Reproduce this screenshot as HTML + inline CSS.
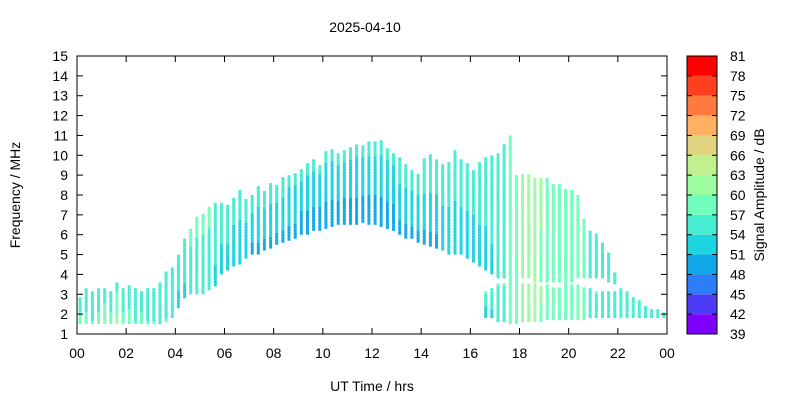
<!DOCTYPE html>
<html><head><meta charset="utf-8"><style>
body{margin:0;background:#fff;font-family:"Liberation Sans",Arial,sans-serif}
svg text{font-family:"Liberation Sans",Arial,sans-serif;fill:#000}
</style></head><body>
<svg id="c" width="800" height="400" xmlns="http://www.w3.org/2000/svg">
<rect width="800" height="400" fill="#fff"/>
<text x="365" y="32" font-size="14" text-anchor="middle">2025-04-10</text>
<text x="372" y="391" font-size="14" text-anchor="middle">UT Time / hrs</text>
<text transform="translate(20,195) rotate(-90)" font-size="14" text-anchor="middle">Frequency / MHz</text>
<text transform="translate(764,195) rotate(-90)" font-size="14" text-anchor="middle">Signal Amplitude / dB</text>
<g id="cells"></g>
<g id="axes"></g>
<g id="cbar"></g>
</svg>
<script>
const hi=[2.8,3.2,3.0,3.2, 3.2,3.0,3.5,3.2, 3.3,3.2,3.0,3.2, 3.2,3.5,4.0,4.2, 5.0,5.8,6.2,6.8, 7.0,7.4,7.6,7.5, 7.5,7.8,8.2,7.8, 8.0,8.4,8.2,8.5, 8.5,8.8,9.0,9.0, 9.2,9.5,9.8,9.5, 10.2,10.3,10.0,10.2, 10.3,10.5,10.5,10.6, 10.6,10.7,10.3,10.0, 9.8,9.5,9.2,9.0, 9.8,10.0,9.8,9.5, 9.6,10.2,9.8,9.6, 9.2,9.6,9.8,10.0, 10.0,10.5,11.0,9.0, 9.0,9.0,8.8,8.8, 8.8,8.5,8.5,8.3, 8.2,8.0,6.8,6.2, 6.0,5.5,5.0,4.0, 3.2,3.0,2.8,2.6, 2.4,2.2,2.2,2.0];
const lo=[1.5,1.5,1.5,1.5, 1.5,1.5,1.5,1.5, 1.5,1.5,1.5,1.5, 1.5,1.5,1.6,1.8, 2.3,2.8,3.0,3.0, 3.0,3.2,3.4,4.0, 4.2,4.4,4.5,4.8, 5.0,5.0,5.2,5.3, 5.5,5.6,5.7,5.8, 6.0,6.0,6.2,6.2, 6.3,6.4,6.5,6.5, 6.5,6.5,6.6,6.5, 6.5,6.4,6.3,6.2, 6.0,5.8,5.8,5.6, 5.5,5.4,5.3,5.2, 5.0,5.0,5.0,4.8, 4.6,4.4,4.2,4.0, 3.8,3.8,3.5,3.6, 3.8,3.8,3.6,3.6, 3.6,3.6,3.6,3.5, 3.6,3.8,3.8,3.8, 3.8,3.8,3.6,3.5, 1.8,1.8,1.8,1.8, 1.8,1.8,1.8,1.8];
const lo2=[0,0,0,0, 0,0,0,0, 0,0,0,0, 0,0,0,0, 0,0,0,0, 0,0,0,0, 0,0,0,0, 0,0,0,0, 0,0,0,0, 0,0,0,0, 0,0,0,0, 0,0,0,0, 0,0,0,0, 0,0,0,0, 0,0,0,0, 0,0,0,0, 0,0,1.8,1.8, 1.6,1.6,1.5,1.5, 1.6,1.6,1.6,1.6, 1.7,1.7,1.7,1.7, 1.7,1.7,1.7,1.8, 1.8,1.8,1.8,1.8, 0,0,0,0, 0,0,0,0];
const hi2=[0,0,0,0, 0,0,0,0, 0,0,0,0, 0,0,0,0, 0,0,0,0, 0,0,0,0, 0,0,0,0, 0,0,0,0, 0,0,0,0, 0,0,0,0, 0,0,0,0, 0,0,0,0, 0,0,0,0, 0,0,0,0, 0,0,0,0, 0,0,0,0, 0,0,3.0,3.2, 3.4,3.4,3.5,3.5, 3.5,3.4,3.4,3.3, 3.4,3.3,3.3,3.4, 3.4,3.4,3.3,3.2, 3.0,3.0,3.0,3.0, 0,0,0,0, 0,0,0,0];
const ampLo=[58,58,57,58, 60,58,61,58, 58,57,58,57, 57,56,57,56, 53,53,54,54, 54,54,53,52, 52,51,51,51, 50,50,50,50, 50,50,50,50, 49,49,49,49, 49,49,49,49, 49,49,49,49, 49,49,49,49, 50,50,50,50, 50,50,50,51, 51,51,51,51, 51,52,52,53, 54,56,57,58, 60,60,60,59, 59,59,58,58, 57,57,57,56, 56,56,56,56, 56,56,55,55, 55,55,55,55];
const ampHi=[55,55,55,55, 55,55,56,55, 55,55,55,55, 54,54,54,54, 56,57,58,58, 58,58,57,57, 57,56,56,56, 56,56,56,56, 56,56,55,55, 55,55,55,55, 55,55,55,55, 55,55,55,55, 55,55,55,55, 56,56,56,56, 57,57,57,57, 57,57,57,57, 57,57,57,57, 57,57,57,58, 60,61,62,61, 60,60,60,59, 59,58,58,57, 57,56,56,55, 54,54,54,54, 54,54,54,54];
const yTicks=[1,2,3,4,5,6,7,8,9,10,11,12,13,14,15];
const xTicks=[0,2,4,6,8,10,12,14,16,18,20,22,24];
const xTickLabels=["00","02","04","06","08","10","12","14","16","18","20","22","00"];
const cbTicks=[39,42,45,48,51,54,57,60,63,66,69,72,75,78,81];
const cbColors=["#8000ff","#4c3cf5","#2c7ef6","#10a8e8","#1ed4e0","#48ecd0","#70ffbc","#9cfca0","#c0f090","#e0d480","#ffb060","#ff7a40","#ff4020","#ff0000"];

const X0=77,X1=667,Y0=334,Y1=56;
const xs=t=>X0+(t/24)*(X1-X0);
const ys=f=>Y0-(f-1)/14*(Y0-Y1);
const col=a=>cbColors[Math.max(0,Math.min(13,Math.floor((a-39)/3)))];
const NS="http://www.w3.org/2000/svg";
function mk(tag,attrs,parent){const e=document.createElementNS(NS,tag);for(const k in attrs)e.setAttribute(k,attrs[k]);parent.appendChild(e);return e;}
const cells=document.getElementById('cells');
function band(i,a,b){
  if(!b||b<=a)return;
  const x=xs(0.125+i*0.25)-1.5;
  const step=0.15;
  for(let f=a;f<b;f+=step){
    const fr=(f-a)/Math.max(0.01,b-a);
    const amp=ampLo[i]+(ampHi[i]-ampLo[i])*fr;
    const r=mk('rect',{x:x.toFixed(1),y:(ys(f+step)).toFixed(1),width:3,height:(ys(f)-ys(f+step)).toFixed(1),fill:col(amp)},cells);
    
    
  }
}
for(let i=0;i<hi.length;i++){band(i,lo[i],hi[i]);band(i,lo2[i],hi2[i]);}

const ax=document.getElementById('axes');
mk('rect',{x:X0,y:Y1,width:X1-X0,height:Y0-Y1,fill:'none',stroke:'#000','stroke-width':1},ax);
yTicks.forEach(v=>{
  const y=ys(v);
  mk('line',{x1:X0,x2:X0+6,y1:y,y2:y,stroke:'#000'},ax);
  mk('line',{x1:X1,x2:X1-6,y1:y,y2:y,stroke:'#000'},ax);
  const t=mk('text',{x:X0-9,y:y+5,'font-size':14,'text-anchor':'end'},ax);
  t.textContent=v;
  
  
});
xTicks.forEach((v,k)=>{
  const x=xs(v);
  mk('line',{x1:x,x2:x,y1:Y0,y2:Y0-6,stroke:'#000'},ax);
  mk('line',{x1:x,x2:x,y1:Y1,y2:Y1+6,stroke:'#000'},ax);
  const t=mk('text',{x:x,y:Y0+24,'font-size':14,'text-anchor':'middle'},ax);
  t.textContent=xTickLabels[k];
  
  
});
const cb=document.getElementById('cbar');
const CX=687,CW=30;
const cy=v=>Y0-(v-39)/42*(Y0-Y1);
cbColors.forEach((c,k)=>{
  const r=mk('rect',{x:CX,y:cy(cbTicks[k+1]),width:CW,height:cy(cbTicks[k])-cy(cbTicks[k+1]),fill:c},cb);
  
  
});
mk('rect',{x:CX,y:Y1,width:CW,height:Y0-Y1,fill:'none',stroke:'#000'},cb);
cbTicks.forEach(v=>{
  const y=cy(v);
  mk('line',{x1:CX,x2:CX+5,y1:y,y2:y,stroke:'#000'},cb);
  mk('line',{x1:CX+CW,x2:CX+CW-5,y1:y,y2:y,stroke:'#000'},cb);
  const t=mk('text',{x:730,y:y+5,'font-size':14},cb);
  t.textContent=v;
  
  
});
</script>
</body></html>
